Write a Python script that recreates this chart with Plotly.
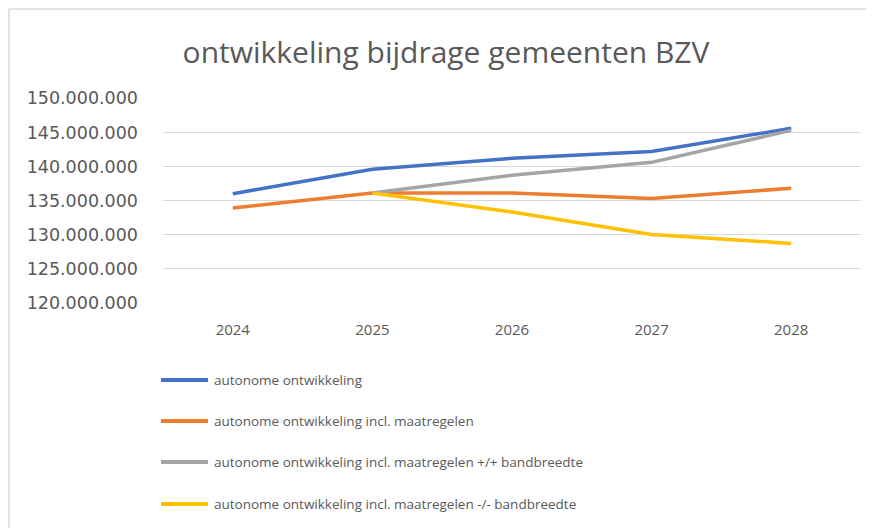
import plotly.graph_objects as go

years = ["2024", "2025", "2026", "2027", "2028"]
series_names = [
    "autonome ontwikkeling",
    "autonome ontwikkeling incl. maatregelen",
    "autonome ontwikkeling incl. maatregelen +/+ bandbreedte",
    "autonome ontwikkeling incl. maatregelen -/- bandbreedte",
]
autonoom = [136.0e6, 139.6e6, 141.2e6, 142.2e6, 145.6e6]
incl_maatregelen = [133.9e6, 136.1e6, 136.1e6, 135.3e6, 136.8e6]
bandbreedte_plus = [None, 136.1e6, 138.7e6, 140.6e6, 145.3e6]
bandbreedte_min = [None, 136.1e6, 133.3e6, 130.0e6, 128.7e6]
series_values = [autonoom, incl_maatregelen, bandbreedte_plus, bandbreedte_min]
colors = ["#4472C4", "#ED7D31", "#A5A5A5", "#FFC000"]
y_ticks = [120e6, 125e6, 130e6, 135e6, 140e6, 145e6, 150e6]

OFF = 8  # page body margin offset
W, H = 874 - OFF, 528 - OFF
L, R, T, B = 163 - OFF, 13, 98 - OFF, 225
PW, PH = W - L - R, H - T - B

def px(x):
    return (x - OFF - L) / PW

def py(y):
    return (H - B - (y - OFF)) / PH

fig = go.Figure()
for name, vals, col in zip(series_names, series_values, colors):
    fig.add_trace(go.Scatter(
        x=years, y=vals, name=name, mode="lines",
        line=dict(color=col, width=3.5), connectgaps=False,
        showlegend=False,
    ))

shapes = []
annotations = []
# frame
shapes.append(dict(type="line", xref="paper", yref="paper",
                   x0=px(9), x1=px(900), y0=py(9), y1=py(9),
                   line=dict(color="#d9d9d9", width=1.5)))
shapes.append(dict(type="line", xref="paper", yref="paper",
                   x0=px(9), x1=px(9), y0=py(9), y1=py(560),
                   line=dict(color="#d9d9d9", width=1.5)))

legend_rows = [380, 421, 462, 504]
for name, col, ry in zip(series_names, colors, legend_rows):
    shapes.append(dict(type="line", xref="paper", yref="paper",
                       x0=px(161), x1=px(208), y0=py(ry), y1=py(ry),
                       line=dict(color=col, width=4)))
    annotations.append(dict(text=name, xref="paper", yref="paper",
                            x=px(212), y=py(ry), xanchor="left", yanchor="middle",
                            showarrow=False,
                            font=dict(family="Open Sans", size=13.5, color="#595959")))

fig.update_layout(
    width=W, height=H,
    margin=dict(l=L, r=R, t=T, b=B),
    paper_bgcolor="white", plot_bgcolor="white",
    separators=",.",
    title=dict(text="ontwikkeling bijdrage gemeenten BZV",
               x=(446 - OFF) / W, xanchor="center", xref="container",
               y=1 - (52 - OFF) / H, yanchor="middle", yref="container",
               font=dict(family="Open Sans", size=30, color="#595959")),
    xaxis=dict(type="category", range=[-0.5, 4.5], showgrid=False, zeroline=False,
               showline=False, ticks="",
               ticklabelstandoff=16,
               tickfont=dict(family="Open Sans", size=15, color="#595959")),
    yaxis=dict(range=[119.95e6, 150.05e6], tickvals=y_ticks, tickformat=",d",
               showgrid=True, gridcolor="#d9d9d9", gridwidth=1.2,
               zeroline=False, showline=False, ticks="",
               ticklabelstandoff=24,
               tickfont=dict(family="DejaVu Sans", size=17.5, color="#595959")),
    shapes=shapes, annotations=annotations,
    showlegend=False,
)

fig.write_html("out.html")
